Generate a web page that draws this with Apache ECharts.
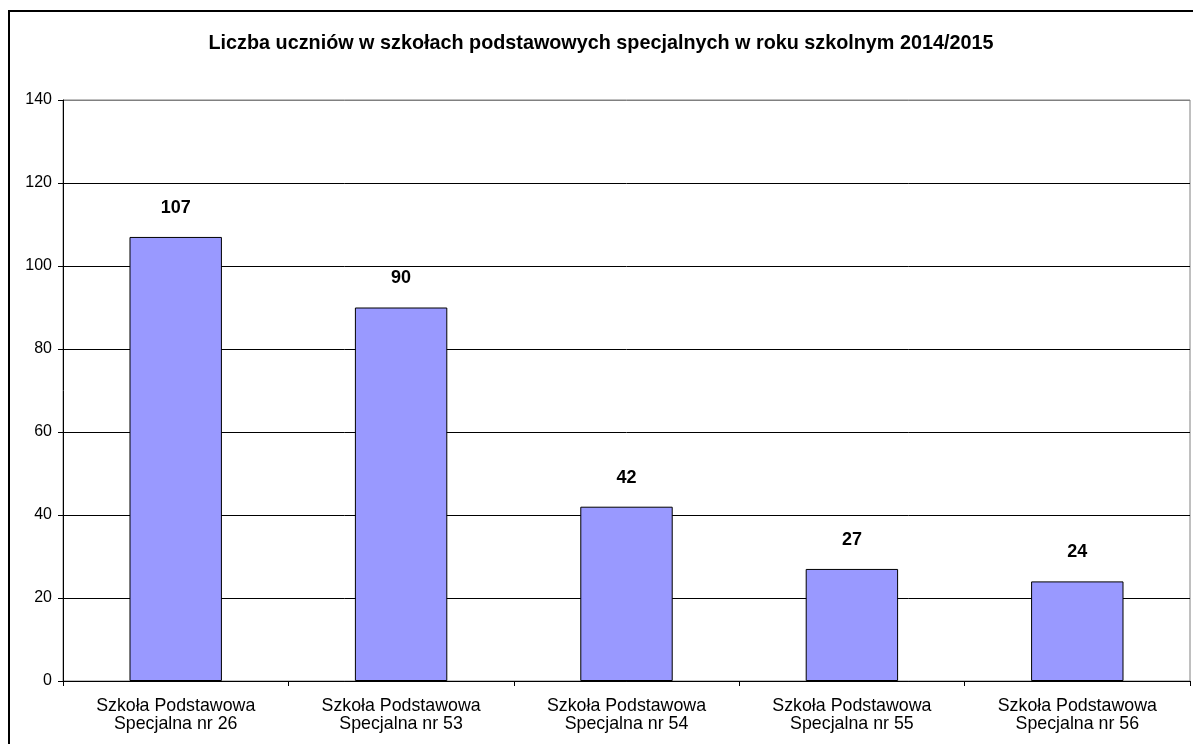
<!DOCTYPE html>
<html>
<head>
<meta charset="utf-8">
<script src="https://cdn.jsdelivr.net/npm/echarts@6/dist/echarts.min.js"></script>
<style>html,body{margin:0;padding:0;background:#fff;}#c{width:1193px;height:744px;}</style>
</head>
<body>
<div id="c"></div>
<script>
const titleText = 'Liczba uczniów w szkołach podstawowych specjalnych w roku szkolnym 2014/2015';
const categories = [
  'Szkoła Podstawowa\nSpecjalna nr 26',
  'Szkoła Podstawowa\nSpecjalna nr 53',
  'Szkoła Podstawowa\nSpecjalna nr 54',
  'Szkoła Podstawowa\nSpecjalna nr 55',
  'Szkoła Podstawowa\nSpecjalna nr 56'
];
const values = [107, 90, 42, 27, 24];
const yMin = 0, yMax = 140, yStep = 20;

const chart = echarts.init(document.getElementById('c'), null, {renderer: 'canvas'});
const font = 'Arial, "Liberation Sans", sans-serif';
chart.setOption({
  animation: false,
  backgroundColor: '#ffffff',
  title: {
    text: titleText,
    left: 596,
    top: 29,
    textAlign: 'center',
    textStyle: {fontFamily: font, fontSize: 19.8, fontWeight: 'bold', color: '#000'}
  },
  graphic: [{
    type: 'rect',
    shape: {x: 9, y: 11, width: 1300, height: 800},
    style: {fill: 'none', stroke: '#000', lineWidth: 2},
    silent: true,
    z: 100
  }],
  grid: {left: 63, right: 3, top: 100, bottom: 63, show: true, borderColor: '#808080', borderWidth: 1},
  xAxis: {
    type: 'category',
    data: categories,
    axisLine: {lineStyle: {color: '#000', width: 1}},
    axisTick: {show: true, length: 5, lineStyle: {color: '#000'}},
    axisLabel: {fontFamily: font, fontSize: 17.8, color: '#000', margin: 16, lineHeight: 18},
    splitLine: {show: false}
  },
  yAxis: {
    type: 'value',
    min: yMin, max: yMax, interval: yStep,
    axisLine: {show: true, lineStyle: {color: '#000', width: 1}},
    axisTick: {show: true, length: 5, lineStyle: {color: '#000'}},
    axisLabel: {fontFamily: font, fontSize: 16, color: '#000', margin: 11},
    splitLine: {show: true, lineStyle: {color: ['#000','#000','#000','#000','#000','#000','#000','#808080'], width: 1}}
  },
  series: [{
    type: 'bar',
    data: values,
    barWidth: '41%',
    itemStyle: {color: '#9999ff', borderColor: '#000', borderWidth: 1},
    label: {show: true, position: 'top', distance: 20, fontFamily: font, fontSize: 18, fontWeight: 'bold', color: '#000'}
  }]
});
</script>
</body>
</html>
